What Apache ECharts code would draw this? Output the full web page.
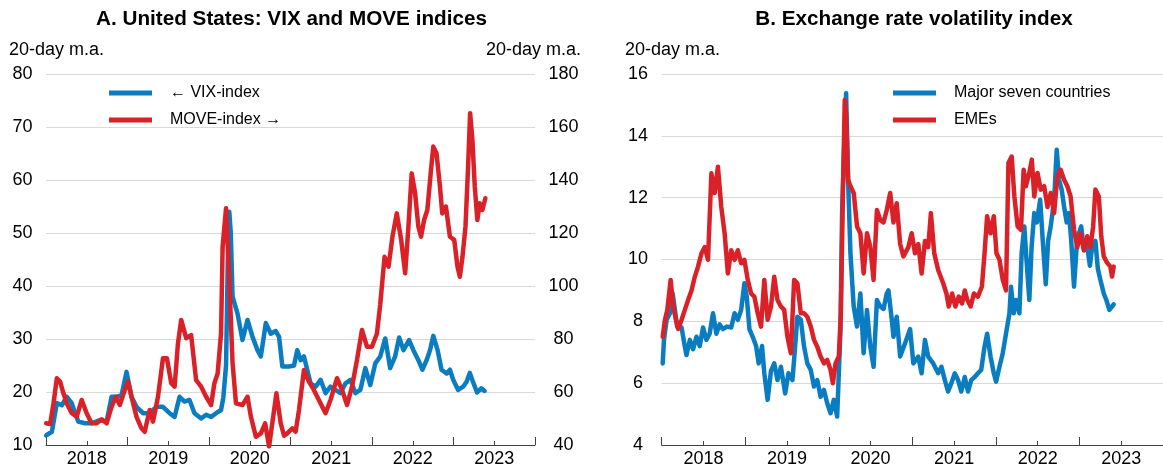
<!DOCTYPE html>
<html>
<head>
<meta charset="utf-8">
<script src="https://cdn.jsdelivr.net/npm/echarts@6/dist/echarts.min.js"></script>
<style>
html, body { margin: 0; padding: 0; background: #fff; }
#chart { width: 1163px; height: 471px; }
</style>
</head>
<body>
<div id="chart"></div>
<script>
// [decimal year, value], 20-day moving averages
var vix = [[2018.002,11.8],[2018.072,12.5],[2018.133,17.9],[2018.194,17.5],[2018.255,19.1],[2018.316,17.9],[2018.357,16.0],[2018.397,14.4],[2018.479,14.1],[2018.560,14.1],[2018.662,14.7],[2018.744,14.4],[2018.805,19.1],[2018.866,19.1],[2018.927,19.4],[2018.988,23.8],[2019.049,19.1],[2019.110,17.2],[2019.190,16.0],[2019.272,16.0],[2019.354,17.2],[2019.435,17.2],[2019.517,16.0],[2019.578,15.3],[2019.639,19.1],[2019.700,18.2],[2019.761,18.5],[2019.822,16.0],[2019.904,15.0],[2019.965,15.7],[2020.026,15.3],[2020.087,16.0],[2020.148,16.6],[2020.176,19.0],[2020.209,25.0],[2020.231,45.0],[2020.249,54.0],[2020.267,50.0],[2020.289,38.0],[2020.350,34.8],[2020.411,29.8],[2020.473,33.6],[2020.534,30.4],[2020.595,27.9],[2020.636,26.7],[2020.697,33.0],[2020.758,31.0],[2020.819,31.5],[2020.860,30.4],[2020.900,24.8],[2020.982,24.8],[2021.043,25.0],[2021.083,27.9],[2021.125,26.0],[2021.165,26.7],[2021.205,24.2],[2021.247,21.6],[2021.308,21.0],[2021.369,22.3],[2021.430,19.8],[2021.491,21.0],[2021.552,20.4],[2021.613,19.8],[2021.674,21.6],[2021.735,22.3],[2021.796,19.8],[2021.857,20.4],[2021.918,24.5],[2021.979,21.3],[2022.040,25.4],[2022.101,26.7],[2022.162,30.1],[2022.223,24.5],[2022.284,26.7],[2022.333,30.3],[2022.386,27.9],[2022.455,29.8],[2022.508,27.9],[2022.569,26.0],[2022.618,24.2],[2022.670,26.0],[2022.712,27.9],[2022.752,30.6],[2022.805,27.9],[2022.853,24.2],[2022.915,23.5],[2022.956,24.2],[2022.996,22.3],[2023.057,20.4],[2023.118,21.0],[2023.159,21.9],[2023.200,23.6],[2023.240,21.9],[2023.289,19.9],[2023.341,20.7],[2023.382,20.2]];

var move = [[2018.002,48.2],[2018.051,47.9],[2018.092,55.7],[2018.133,65.2],[2018.173,63.9],[2018.214,59.5],[2018.255,55.7],[2018.316,52.0],[2018.377,50.7],[2018.438,57.0],[2018.499,52.0],[2018.560,48.2],[2018.621,48.2],[2018.683,49.7],[2018.744,48.2],[2018.805,54.5],[2018.857,58.2],[2018.906,55.1],[2018.967,60.8],[2019.007,63.9],[2019.049,58.2],[2019.110,50.7],[2019.171,46.3],[2019.211,45.0],[2019.272,53.2],[2019.313,48.8],[2019.374,58.2],[2019.435,72.7],[2019.484,72.7],[2019.537,63.3],[2019.578,62.0],[2019.618,78.0],[2019.659,87.2],[2019.720,80.3],[2019.781,81.5],[2019.801,75.8],[2019.842,64.5],[2019.904,62.0],[2019.965,58.2],[2020.026,55.1],[2020.066,63.3],[2020.106,67.0],[2020.148,82.2],[2020.167,114.8],[2020.209,129.3],[2020.249,102.3],[2020.289,71.0],[2020.331,55.7],[2020.411,55.1],[2020.473,58.2],[2020.514,50.7],[2020.575,43.1],[2020.636,44.4],[2020.689,48.2],[2020.737,39.5],[2020.799,53.2],[2020.827,59.5],[2020.880,48.2],[2020.921,43.5],[2020.961,44.4],[2021.022,46.3],[2021.063,45.0],[2021.104,53.2],[2021.165,68.3],[2021.226,63.9],[2021.287,60.8],[2021.348,57.0],[2021.430,52.0],[2021.491,57.0],[2021.571,65.2],[2021.632,60.8],[2021.694,55.1],[2021.755,62.0],[2021.816,72.1],[2021.877,83.4],[2021.938,77.1],[2021.999,77.1],[2022.060,82.0],[2022.101,93.0],[2022.154,111.0],[2022.203,107.3],[2022.251,118.6],[2022.304,127.4],[2022.358,117.4],[2022.407,104.8],[2022.447,122.4],[2022.487,142.5],[2022.529,135.0],[2022.569,122.4],[2022.602,118.6],[2022.639,124.9],[2022.679,128.7],[2022.724,143.8],[2022.752,152.6],[2022.792,150.0],[2022.834,137.5],[2022.862,127.4],[2022.907,130.0],[2022.956,118.6],[2023.009,117.4],[2023.049,107.3],[2023.078,103.5],[2023.110,111.0],[2023.147,122.4],[2023.179,145.0],[2023.204,165.2],[2023.232,155.1],[2023.261,137.5],[2023.293,124.9],[2023.322,131.2],[2023.354,128.7],[2023.391,133.1]];

var majorSeven = [[2018.012,6.64],[2018.027,7.4],[2018.059,8.05],[2018.099,8.26],[2018.131,8.9],[2018.158,8.37],[2018.185,7.83],[2018.238,7.8],[2018.277,7.18],[2018.297,6.91],[2018.337,7.4],[2018.376,7.1],[2018.416,7.5],[2018.455,7.2],[2018.495,7.8],[2018.535,7.4],[2018.574,7.6],[2018.614,8.26],[2018.654,7.6],[2018.693,7.9],[2018.732,7.75],[2018.780,7.83],[2018.832,7.8],[2018.872,8.26],[2018.911,8.05],[2018.951,8.37],[2018.990,9.23],[2019.018,8.8],[2019.050,7.75],[2019.089,7.5],[2019.130,7.2],[2019.161,6.64],[2019.201,7.2],[2019.228,6.32],[2019.268,5.46],[2019.308,6.4],[2019.347,6.64],[2019.386,6.1],[2019.427,6.53],[2019.478,5.67],[2019.517,6.32],[2019.565,6.1],[2019.597,7.18],[2019.624,8.15],[2019.665,8.05],[2019.704,7.18],[2019.743,6.64],[2019.784,6.43],[2019.823,5.89],[2019.862,6.1],[2019.902,5.56],[2019.942,5.78],[2019.981,5.35],[2020.021,5.03],[2020.060,5.46],[2020.100,4.92],[2020.140,7.75],[2020.159,11.5],[2020.180,13.33],[2020.207,15.38],[2020.231,12.58],[2020.259,10.2],[2020.298,8.48],[2020.338,7.83],[2020.378,8.9],[2020.417,6.97],[2020.457,8.37],[2020.497,7.18],[2020.536,6.53],[2020.576,8.69],[2020.616,8.48],[2020.655,8.4],[2020.694,8.9],[2020.714,9.0],[2020.754,8.05],[2020.774,7.5],[2020.813,8.15],[2020.854,6.86],[2020.913,7.29],[2020.973,7.75],[2021.012,6.64],[2021.071,6.86],[2021.111,6.32],[2021.151,7.4],[2021.190,6.86],[2021.250,6.64],[2021.309,6.32],[2021.348,6.53],[2021.389,6.1],[2021.428,5.73],[2021.467,6.0],[2021.508,6.32],[2021.547,6.1],[2021.586,5.73],[2021.627,6.2],[2021.666,5.73],[2021.705,6.1],[2021.746,6.2],[2021.785,6.32],[2021.824,6.43],[2021.864,7.18],[2021.895,7.6],[2021.936,6.86],[2021.975,6.32],[2022.002,6.05],[2022.043,6.53],[2022.082,6.97],[2022.121,7.6],[2022.162,8.26],[2022.181,9.12],[2022.213,8.26],[2022.240,8.69],[2022.281,8.26],[2022.308,10.2],[2022.340,11.07],[2022.371,9.8],[2022.400,8.69],[2022.427,10.4],[2022.459,11.5],[2022.490,11.2],[2022.530,11.93],[2022.561,10.6],[2022.597,9.2],[2022.625,10.6],[2022.656,11.07],[2022.697,11.93],[2022.728,13.55],[2022.756,12.58],[2022.787,12.26],[2022.816,11.71],[2022.847,11.2],[2022.875,11.5],[2022.902,10.6],[2022.935,9.12],[2022.966,10.4],[2022.994,10.85],[2023.021,11.07],[2023.054,10.3],[2023.084,10.6],[2023.125,9.8],[2023.152,10.4],[2023.191,10.6],[2023.220,9.7],[2023.251,9.34],[2023.291,8.9],[2023.322,8.69],[2023.358,8.37],[2023.390,8.48],[2023.410,8.55]];

var emes = [[2018.012,7.5],[2018.039,8.05],[2018.067,8.37],[2018.107,9.34],[2018.138,8.48],[2018.170,8.05],[2018.197,7.75],[2018.238,8.05],[2018.277,8.37],[2018.316,8.69],[2018.357,9.0],[2018.396,9.44],[2018.435,9.77],[2018.476,10.2],[2018.515,10.4],[2018.554,9.99],[2018.595,12.79],[2018.634,12.15],[2018.673,13.0],[2018.713,11.7],[2018.753,10.85],[2018.792,9.55],[2018.832,10.3],[2018.872,9.99],[2018.911,10.3],[2018.951,9.88],[2018.990,9.99],[2019.030,9.34],[2019.070,8.9],[2019.109,8.8],[2019.149,8.26],[2019.189,7.83],[2019.228,9.34],[2019.268,8.05],[2019.308,8.48],[2019.347,9.44],[2019.386,8.69],[2019.427,8.48],[2019.466,8.37],[2019.505,7.5],[2019.546,6.97],[2019.585,9.34],[2019.624,9.23],[2019.665,8.26],[2019.704,8.26],[2019.743,8.15],[2019.784,7.83],[2019.823,7.4],[2019.862,7.18],[2019.902,6.86],[2019.942,6.64],[2019.981,6.75],[2020.021,6.43],[2020.049,6.0],[2020.081,6.64],[2020.120,6.86],[2020.144,8.26],[2020.168,12.04],[2020.191,15.16],[2020.207,14.7],[2020.231,12.58],[2020.259,12.37],[2020.298,12.15],[2020.338,11.07],[2020.378,10.85],[2020.417,9.55],[2020.457,10.85],[2020.497,10.4],[2020.536,9.34],[2020.576,11.6],[2020.616,11.28],[2020.655,11.2],[2020.694,11.6],[2020.735,12.15],[2020.774,11.2],[2020.813,11.82],[2020.854,10.5],[2020.893,10.1],[2020.952,10.4],[2020.992,10.85],[2021.032,10.2],[2021.071,10.5],[2021.111,9.55],[2021.151,10.6],[2021.190,10.4],[2021.222,11.5],[2021.262,10.2],[2021.309,9.66],[2021.369,9.23],[2021.408,8.9],[2021.436,8.48],[2021.476,8.9],[2021.515,8.48],[2021.555,8.8],[2021.595,8.58],[2021.627,9.0],[2021.658,8.69],[2021.698,8.48],[2021.737,8.9],[2021.785,8.8],[2021.832,9.12],[2021.864,10.2],[2021.895,11.4],[2021.936,10.85],[2021.975,11.4],[2022.007,10.2],[2022.043,9.99],[2022.082,9.34],[2022.121,9.0],[2022.150,13.12],[2022.189,13.33],[2022.221,12.04],[2022.260,11.07],[2022.300,10.96],[2022.332,12.9],[2022.359,12.37],[2022.400,12.8],[2022.430,13.23],[2022.459,12.04],[2022.498,12.8],[2022.537,12.26],[2022.578,12.37],[2022.617,11.7],[2022.656,12.15],[2022.697,11.5],[2022.736,12.7],[2022.775,12.9],[2022.816,12.58],[2022.855,12.37],[2022.894,12.04],[2022.935,10.96],[2022.974,10.4],[2023.013,10.85],[2023.054,10.3],[2023.093,10.75],[2023.132,10.4],[2023.164,11.07],[2023.191,12.26],[2023.232,12.04],[2023.261,10.75],[2023.291,10.1],[2023.330,9.9],[2023.370,9.77],[2023.390,9.45],[2023.410,9.77]];

// year labels sit in the middle of each year
var yearLabels = [2018.5, 2019.5, 2020.5, 2021.5, 2022.5, 2023.5];

var FONT = "'Liberation Sans', Arial, sans-serif";
var BLUE = '#0a7cc1';
var RED = '#da2128';

function timeAxis(gridIndex){
  return {
    type: 'value', gridIndex: gridIndex,
    min: 2018, max: 2024, interval: 1,
    axisLine: { show: true, lineStyle: { color: '#404040', width: 1 } },
    axisTick: { show: true, inside: true, length: 8, lineStyle: { color: '#404040' } },
    minorTick: { show: true, splitNumber: 2, length: 4, lineStyle: { color: '#404040' } },
    axisLabel: {
      customValues: yearLabels,
      formatter: function(v){ return String(Math.floor(v)); },
      fontSize: 18, color: '#000', fontFamily: FONT, margin: 5
    },
    splitLine: { show: false }
  };
}

function valueAxis(gridIndex, min, max, step, position, margin, grid){
  return {
    type: 'value', gridIndex: gridIndex, position: position,
    min: min, max: max, interval: step,
    axisLine: { show: false }, axisTick: { show: false },
    axisLabel: { fontSize: 18, color: '#000', fontFamily: FONT, align: 'center', margin: margin },
    splitLine: { show: grid, lineStyle: { color: '#d9d9d9', width: 1 } }
  };
}

function lineSeries(name, data, color, xi, yi){
  return {
    name: name, type: 'line', data: data,
    xAxisIndex: xi, yAxisIndex: yi,
    showSymbol: false, symbol: 'none', clip: false,
    lineStyle: { color: color, width: 4.5, join: 'round', cap: 'round' },
    itemStyle: { color: color },
    emphasis: { disabled: true }
  };
}

var legendBase = {
  orient: 'vertical', icon: 'rect', itemWidth: 43, itemHeight: 5, itemGap: 9, padding: 0,
  textStyle: { fontSize: 16, color: '#000', fontFamily: FONT, lineHeight: 18, padding: [0, 0, 0, 13] }
};

var chart = echarts.init(document.getElementById('chart'));
chart.setOption({
  animation: false,
  backgroundColor: '#fff',
  grid: [
    { left: 46, right: 628, top: 74, bottom: 26 },
    { left: 661.7, right: -3.3, top: 74, bottom: 26 }
  ],
  xAxis: [ timeAxis(0), timeAxis(1) ],
  yAxis: [
    valueAxis(0, 10, 80, 10, 'left', 23.5, true),
    valueAxis(0, 40, 180, 20, 'right', 28.5, false),
    valueAxis(1, 4, 16, 2, 'left', 23.7, true)
  ],
  legend: [
    Object.assign({}, legendBase, { left: 109, top: 84, data: ['← VIX-index', 'MOVE-index →'] }),
    Object.assign({}, legendBase, { left: 893, top: 84, data: ['Major seven countries', 'EMEs'] })
  ],
  graphic: [
    { type: 'text', x: 291.5, y: 19, style: { text: 'A. United States: VIX and MOVE indices', font: 'bold 20.7px ' + FONT, fill: '#000', textAlign: 'center', textVerticalAlign: 'middle', align: 'center', verticalAlign: 'middle' } },
    { type: 'text', x: 914, y: 19, style: { text: 'B. Exchange rate volatility index', font: 'bold 20.7px ' + FONT, fill: '#000', textAlign: 'center', textVerticalAlign: 'middle', align: 'center', verticalAlign: 'middle' } },
    { type: 'text', x: 9, y: 50, style: { text: '20-day m.a.', font: '18px ' + FONT, fill: '#000', textAlign: 'left', textVerticalAlign: 'middle', align: 'left', verticalAlign: 'middle' } },
    { type: 'text', x: 581, y: 50, style: { text: '20-day m.a.', font: '18px ' + FONT, fill: '#000', textAlign: 'right', textVerticalAlign: 'middle', align: 'right', verticalAlign: 'middle' } },
    { type: 'text', x: 625, y: 50, style: { text: '20-day m.a.', font: '18px ' + FONT, fill: '#000', textAlign: 'left', textVerticalAlign: 'middle', align: 'left', verticalAlign: 'middle' } }
  ],
  series: [
    lineSeries('← VIX-index', vix, BLUE, 0, 0),
    lineSeries('MOVE-index →', move, RED, 0, 1),
    lineSeries('Major seven countries', majorSeven, BLUE, 1, 2),
    lineSeries('EMEs', emes, RED, 1, 2)
  ]
});
</script>
</body>
</html>
